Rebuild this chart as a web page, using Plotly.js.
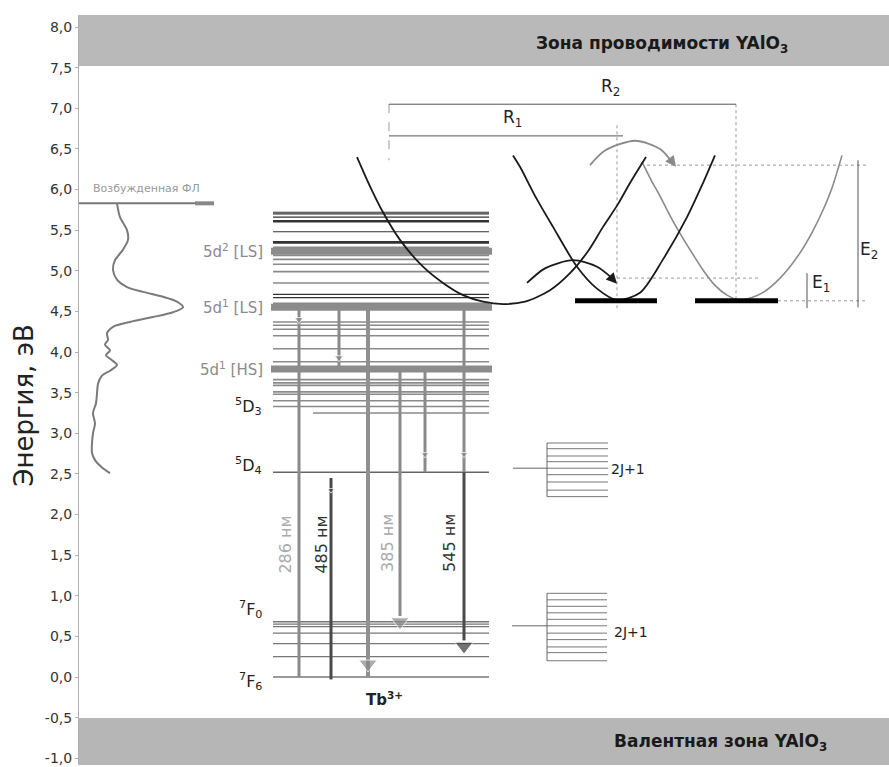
<!DOCTYPE html>
<html>
<head>
<meta charset="utf-8">
<script src="https://cdn.plot.ly/plotly-3.0.1.min.js"></script>
<style>html,body{margin:0;padding:0;background:#fff;}#chart{width:889px;height:767px;}</style>
</head>
<body>
<div id="chart"></div>
<script>
// ---------- DATA (energies in eV; x is schematic diagram coordinate) ----------
// Excitation spectrum of luminescence (intensity on schematic x, energy on y)
const specE = [5.83,5.66,5.50,5.38,5.26,5.13,5.01,4.89,4.80,4.74,4.68,4.62,4.55,4.49,4.43,4.37,4.31,4.23,4.15,4.09,4.02,3.96,3.90,3.84,3.77,3.71,3.61,3.49,3.37,3.25,3.12,3.00,2.88,2.76,2.67,2.58,2.51];
const specI = [117,120,127,128,123,115,113,117,127,143,163,177,183,173,153,130,113,107,108,105,110,106,112,117,110,102,98,97,96,93,95,93,92,92,95,102,110];
const excLevel = 5.83;

// Tb3+ energy levels
const levelsDarkThin  = [5.72,5.70,5.66,5.48,4.71,4.67];
const levelsDarkThick = [5.61,5.35];
const levelsGray      = [5.29,5.19,5.14,5.08,4.99,4.85,4.60,4.37,4.33,4.28,4.20,4.04,3.88,3.66,3.62,3.59,3.51,3.48,3.40,3.33];
const levelsBands     = [5.24,4.55,3.79];   // 5d2[LS], 5d1[LS], 5d1[HS]
const levelD3partial  = [3.25];
const levelD4         = [2.52];
const levelsF         = [0.68,0.65,0.62,0.54,0.41,0.25,0.0];

// Transitions [x, E_from, E_to]
const transGray = [[299,4.55,0.0],[339,4.55,3.79],[400,3.79,0.75],[425,3.79,2.52],[464,4.55,2.52]];
const transGrayWide = [[368,4.55,0.0]];
const transDark = [[331,2.45,-0.03],[464,2.52,0.45]];
const headsGray = {x:[299,339,368,400,425,464], y:[4.40,3.93,0.16,0.68,2.74,2.74], s:[8,8,16,16,7,7]};
const headsDark = {x:[464,331], y:[0.38,2.30], s:[16,6]};
const waveLabels = ["286 нм","485 нм","385 нм","545 нм"];
const waveX = [286,322,388,450];
const waveE = [1.63,1.63,1.65,1.65];

// Configuration-coordinate curves
const curveBx = [357,370,383,400,423,443,463,483,503,525,550,570,588,603,618,630,646];
const curveBE = [6.40,6.04,5.72,5.38,5.05,4.85,4.70,4.62,4.59,4.62,4.76,4.97,5.24,5.54,5.82,6.08,6.40];
const curveAx = [513,520,536,553,577,597,617,640,663,687,703,715];
const curveAE = [6.42,6.28,5.90,5.54,5.05,4.78,4.64,4.73,5.14,5.66,6.08,6.42];
const curveCx = [642,651,660,670,680,692,703,715,727,740,752,764,776,788,800,812,822,832,842];
const curveCE = [6.34,6.12,5.92,5.68,5.46,5.22,5.01,4.82,4.70,4.64,4.67,4.74,4.86,5.02,5.22,5.47,5.72,6.02,6.42];
const arrowBlackX = [527,545,573,597,612];
const arrowBlackE = [4.85,5.03,5.13,5.05,4.91];
const arrowGrayX = [590,605,635,660,672];
const arrowGrayE = [6.30,6.48,6.60,6.50,6.34];
const trapE = 4.63;
const barE = 4.63;
const E1top = 4.91, E2top = 6.30;
const R1E = 6.66, R2E = 7.05;

// Crystal-field splitting (2J+1) sublevels
const split1 = [2.88,2.81,2.72,2.65,2.57,2.49,2.40,2.30,2.22];
const split1Ref = 2.57;
const split2 = [1.03,0.95,0.87,0.79,0.71,0.63,0.54,0.46,0.37,0.30,0.20];
const split2Ref = 0.63;

// Bands and axis ticks
const cbBottom = 7.52, vbTop = -0.505;
const yTicks = [-1.0,-0.5,0,0.5,1,1.5,2,2.5,3,3.5,4,4.5,5,5.5,6,6.5,7,7.5,8];
const yTickText = ["-1,0","-0,5","0,0","0,5","1,0","1,5","2,0","2,5","3,0","3,5","4,0","4,5","5,0","5,5","6,0","6,5","7,0","7,5","8,0"];

// ---------- helpers ----------
const LX0 = 273, LX1 = 489;
function hsegs(list){ const x=[],y=[]; list.forEach(s=>{x.push(s[0],s[1],null); y.push(s[2],s[2],null);}); return {x,y}; }
function vsegs(list){ const x=[],y=[]; list.forEach(s=>{x.push(s[0],s[0],null); y.push(s[1],s[2],null);}); return {x,y}; }
function levels(Es,x0,x1){ return hsegs(Es.map(e=>[x0,x1,e])); }
function lineTrace(d,color,width,dash,shape){
  return {type:'scatter',mode:'lines',x:d.x,y:d.y,hoverinfo:'skip',showlegend:false,
          line:{color:color,width:width,dash:dash||'solid',shape:shape||'linear',smoothing:0.8},connectgaps:false};
}
const F = 'DejaVu Sans, Liberation Sans, Arial, sans-serif';

const traces = [];
traces.push(lineTrace({x:specI,y:specE},'#7a7a7a',2,'solid','spline'));
traces.push(lineTrace(hsegs([[79,200,excLevel]]),'#777',2));
traces.push(lineTrace(hsegs([[195,214,excLevel]]),'#888',4));
traces.push(lineTrace(levels(levelsGray,LX0,LX1),'#8a8a8a',1.6));
traces.push(lineTrace(levels(levelD3partial,313,LX1),'#8a8a8a',1.6));
traces.push(lineTrace(levels(levelD4,LX0,LX1),'#666',1.3));
traces.push(lineTrace(levels(levelsF,LX0,LX1),'#777',1.3));
traces.push(lineTrace(levels(levelsDarkThin,LX0,LX1),'#333',1.2));
traces.push(lineTrace(levels(levelsDarkThick,LX0,LX1),'#333',2.6));
traces.push(lineTrace(vsegs(transGray),'#8a8a8a',3));
traces.push(lineTrace(vsegs(transGrayWide),'#909090',4));
traces.push(lineTrace(vsegs(transDark),'#4a4a4a',3));
traces.push(lineTrace(levels(levelsBands,271,492),'#8c8c8c',7));
traces.push({type:'scatter',mode:'markers',x:headsGray.x,y:headsGray.y,hoverinfo:'skip',showlegend:false,
  marker:{symbol:'triangle-down',size:headsGray.s,color:'#8a8a8a'}});
traces.push({type:'scatter',mode:'markers',x:headsDark.x,y:headsDark.y,hoverinfo:'skip',showlegend:false,
  marker:{symbol:'triangle-down',size:headsDark.s,color:'#3a3a3a'}});
traces.push(lineTrace(hsegs([[647,867,E2top],[617,760,E1top],[778,867,barE]]),'#999',1,'dot'));
traces.push(lineTrace(vsegs([[617,6.79,4.54],[736,R2E,4.64]]),'#999',1,'dot'));
traces.push(lineTrace(vsegs([[389,R2E,6.36]]),'#999',1,'dash'));
traces.push(lineTrace(hsegs([[389,736,R2E],[389,623,R1E]]),'#555',1));
traces.push(lineTrace(vsegs([[807,4.97,4.54],[858,6.36,4.55]]),'#555',1));
traces.push(lineTrace({x:curveCx,y:curveCE},'#8a8a8a',1.6,'solid','spline'));
traces.push(lineTrace({x:curveBx,y:curveBE},'#1a1a1a',1.8,'solid','spline'));
traces.push(lineTrace({x:curveAx,y:curveAE},'#1a1a1a',1.8,'solid','spline'));
traces.push(lineTrace({x:arrowBlackX,y:arrowBlackE},'#1a1a1a',1.8,'solid','spline'));
traces.push(lineTrace({x:arrowGrayX,y:arrowGrayE},'#8a8a8a',1.8,'solid','spline'));
traces.push(lineTrace(hsegs([[575,657,trapE],[695,778,trapE]]),'#000',5));
traces.push(lineTrace(levels(split1,547,608),'#777',1));
traces.push(lineTrace(levels(split2,547,607),'#777',1));
traces.push(lineTrace(hsegs([[513,547,split1Ref],[512,547,split2Ref]]),'#666',1));
traces.push(lineTrace(vsegs([[547,split1[0],split1[split1.length-1]],[547,split2[0],split2[split2.length-1]]]),'#666',1));

// ---------- annotations ----------
const ann = [];
function txt(text,x,y,size,color,opts){
  ann.push(Object.assign({text:text,x:x,y:y,xref:'x',yref:'y',showarrow:false,
    font:{family:F,size:size,color:color}},opts||{}));
}
txt('<b>Зона проводимости YAlO<sub>3</sub></b>',662,7.78,17,'#1a1a1a');
txt('<b>Валентная зона YAlO<sub>3</sub></b>',720,-0.80,17,'#1a1a1a');
txt('Возбужденная ФЛ',146,6.01,11,'#9a9a9a');
txt('5d<sup>2</sup> [LS]',265,5.24,15,'#8a8a8a',{xanchor:'right'});
txt('5d<sup>1</sup> [LS]',265,4.55,15,'#8a8a8a',{xanchor:'right'});
txt('5d<sup>1</sup> [HS]',265,3.79,15,'#8a8a8a',{xanchor:'right'});
txt('<sup>5</sup>D<sub>3</sub>',264,3.33,16,'#222',{xanchor:'right'});
txt('<sup>5</sup>D<sub>4</sub>',264,2.60,16,'#222',{xanchor:'right'});
txt('<sup>7</sup>F<sub>0</sub>',264,0.83,16,'#222',{xanchor:'right'});
txt('<sup>7</sup>F<sub>6</sub>',264,-0.05,16,'#222',{xanchor:'right'});
txt('<b>Tb<sup>3+</sup></b>',384,-0.27,15,'#222');
txt('R<sub>2</sub>',610,7.26,17,'#222');
txt('R<sub>1</sub>',512,6.88,17,'#222');
txt('E<sub>1</sub>',821,4.84,17,'#222');
txt('E<sub>2</sub>',869,5.25,17,'#222');
txt('2J+1',628,2.56,14,'#222');
txt('2J+1',631,0.55,14,'#222');
const waveColors = ['#aaa','#333','#aaa','#333'];
waveLabels.forEach((w,i)=>txt(w,waveX[i],waveE[i],16,waveColors[i],{textangle:-90}));
// y-axis title placed to match the reference position
ann.push({text:'Энергия, эВ',xref:'paper',yref:'y',x:-0.068,y:3.35,xanchor:'center',yanchor:'middle',
  showarrow:false,textangle:-90,font:{family:F,size:26,color:'#222'}});
ann.push({x:617,y:4.84,ax:611,ay:4.92,xref:'x',yref:'y',axref:'x',ayref:'y',text:'',showarrow:true,
  arrowhead:2,arrowsize:1.2,arrowwidth:1.8,arrowcolor:'#1a1a1a'});
ann.push({x:676,y:6.28,ax:671,ay:6.36,xref:'x',yref:'y',axref:'x',ayref:'y',text:'',showarrow:true,
  arrowhead:2,arrowsize:1.2,arrowwidth:1.8,arrowcolor:'#8a8a8a'});

const layout = {
  width:889,height:767,
  margin:{l:79,r:0,t:15,b:2,pad:0},
  paper_bgcolor:'#fff',plot_bgcolor:'#fff',
  separators:', ',
  showlegend:false,
  font:{family:F,color:'#333'},
  xaxis:{range:[79,889],visible:false,fixedrange:true},
  yaxis:{range:[-1.083,8.148],tickvals:yTicks,ticktext:yTickText,showgrid:false,zeroline:false,
    showline:true,linecolor:'#b0b0b0',linewidth:1,ticks:'outside',ticklen:3,tickcolor:'#b0b0b0',
    tickfont:{family:F,size:14,color:'#333'},automargin:false},
  shapes:[
    {type:'rect',xref:'paper',yref:'y',x0:0,x1:1,y0:cbBottom,y1:8.148,fillcolor:'#b9b9b9',line:{width:0},layer:'below'},
    {type:'rect',xref:'paper',yref:'y',x0:0,x1:1,y0:-1.083,y1:vbTop,fillcolor:'#b6b6b6',line:{width:0},layer:'below'}
  ],
  annotations:ann
};
Plotly.newPlot('chart',traces,layout,{staticPlot:true,displayModeBar:false});
</script>
</body>
</html>
